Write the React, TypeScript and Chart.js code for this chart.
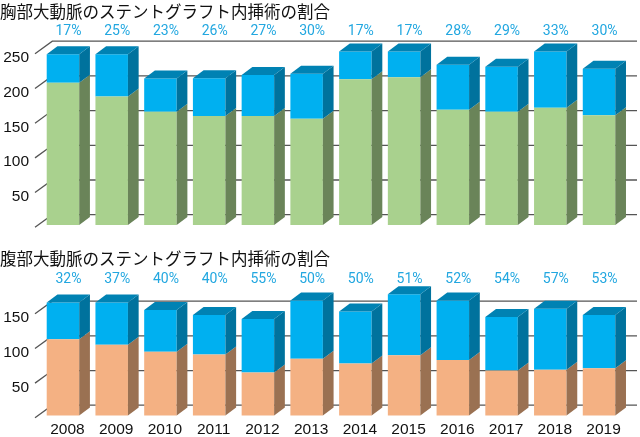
import React, { useEffect, useRef } from "react";
import { Chart, registerables } from "chart.js";

Chart.register(...registerables);

const years = ["2008","2009","2010","2011","2012","2013","2014","2015","2016","2017","2018","2019"];

const thoracicTitle = "胸部大動脈のステントグラフト内挿術の割合";
const thoracicLower = [205,185,163,157,157,153,210,213,166,163,169,158];
const thoracicUpper = [41,61,48,54.5,59,65,40,37,65,65,81,67];
const thoracicPercent = ["17%","25%","23%","26%","27%","30%","17%","17%","28%","29%","33%","30%"];

const abdominalTitle = "腹部大動脈のステントグラフト内挿術の割合";
const abdominalLower = [110,102,92,88,62,82,75,87,80,65,66,68];
const abdominalUpper = [53,61,60,57,77,84,75,88,86,77,88,77];
const abdominalPercent = ["32%","37%","40%","40%","55%","50%","50%","51%","52%","54%","57%","53%"];

const BLUE = "#00B0F0";
const BLUE_TOP = "#0082B3";
const BLUE_SIDE = "#00729D";
const GREEN = "#A9D18E";
const GREEN_SIDE = "#6A8459";
const ORANGE = "#F4B183";
const ORANGE_SIDE = "#9A7152";
const GRID = "#555555";
const LABEL_BLUE = "#22A7E0";
const DX = 10.7;
const DY = -8;

function poly(ctx: CanvasRenderingContext2D, pts: number[][], color: string) {
  ctx.beginPath();
  pts.forEach((p, i) => (i ? ctx.lineTo(p[0], p[1]) : ctx.moveTo(p[0], p[1])));
  ctx.closePath();
  ctx.fillStyle = color;
  ctx.fill();
}

function makePlugin(percent: string[], percentY: number, lowerSide: string) {
  return {
    id: "bars3d",
    beforeDatasetsDraw(chart: any) {
      const ctx = chart.ctx;
      const y = chart.scales.y;
      ctx.save();
      ctx.strokeStyle = GRID;
      ctx.lineWidth = 1.3;
      y.ticks.forEach((t: any) => {
        const p = y.getPixelForValue(t.value);
        ctx.beginPath();
        ctx.moveTo(35, p + 2.3);
        ctx.lineTo(52.3, p - 10.3);
        ctx.lineTo(637, p - 10.3);
        ctx.stroke();
      });
      ctx.restore();
    },
    afterDatasetsDraw(chart: any) {
      const ctx = chart.ctx;
      ctx.save();
      const lower = chart.getDatasetMeta(0).data;
      const upper = chart.getDatasetMeta(1).data;
      lower.forEach((b: any, i: number) => {
        const u = upper[i];
        const r = b.x + b.width / 2;
        const l = b.x - b.width / 2;
        poly(ctx, [[r, b.base], [r + DX, b.base + DY], [r + DX, b.y + DY], [r, b.y]], lowerSide);
        poly(ctx, [[r, b.y], [r + DX, b.y + DY], [r + DX, u.y + DY], [r, u.y]], BLUE_SIDE);
        poly(ctx, [[l, u.y], [l + DX, u.y + DY], [r + DX, u.y + DY], [r, u.y]], BLUE_TOP);
        ctx.fillStyle = LABEL_BLUE;
        ctx.font = '14px Roboto';
        ctx.textAlign = "center";
        ctx.textBaseline = "middle";
        ctx.fillText(percent[i], b.x + 5.5, percentY);
      });
      ctx.restore();
    },
  };
}

function makeChart(
  canvas: HTMLCanvasElement,
  cfg: {
    title: string; lower: number[]; upper: number[]; percent: string[]; percentY: number;
    lowerColor: string; lowerSide: string; max: number; topTick: number;
    titlePadding: { top: number; bottom: number }; showX: boolean; axisHeight: number;
  }
) {
  return new Chart(canvas, {
    type: "bar",
    data: {
      labels: years,
      datasets: [
        { data: cfg.lower, backgroundColor: cfg.lowerColor, stack: "s" },
        { data: cfg.upper, backgroundColor: BLUE, stack: "s" },
      ],
    },
    plugins: [makePlugin(cfg.percent, cfg.percentY, cfg.lowerSide)],
    options: {
      responsive: false,
      animation: false,
      clip: false,
      barPercentage: 0.667,
      categoryPercentage: 1,
      layout: { autoPadding: false, padding: { left: 0, right: 16.6, top: 0, bottom: 0 } },
      plugins: {
        legend: { display: false },
        tooltip: { enabled: false },
        title: {
          display: true,
          text: cfg.title,
          align: "start",
          color: "#111111",
          font: { family: '"Noto Sans CJK JP"', size: 16.5, weight: "normal", lineHeight: 1 },
          padding: cfg.titlePadding,
        },
      },
      scales: {
        x: {
          stacked: true,
          grid: { display: false, drawTicks: false },
          border: { display: false },
          ticks: {
            display: cfg.showX,
            color: "#111111",
            font: { family: '"Liberation Sans"', size: 15.5 },
            padding: 5.2,
            labelOffset: 4.5,
            autoSkip: false,
            maxRotation: 0,
          },
          afterFit(axis: any) {
            axis.height = cfg.axisHeight;
            axis.paddingLeft = 0;
            axis.paddingRight = 0;
          },
        },
        y: {
          stacked: true,
          min: 0,
          max: cfg.max,
          grid: { display: false, drawTicks: false },
          border: { display: false },
          ticks: {
            stepSize: 50,
            color: "#111111",
            font: { family: '"Liberation Sans"', size: 15.5 },
            padding: 9.6,
            labelOffset: 6.5,
            callback: (v: any) => (v === 0 ? "" : String(v)),
          },
          afterBuildTicks(axis: any) { axis.ticks = axis.ticks.filter((t: any) => t.value <= cfg.topTick); },
          afterFit(axis: any) {
            axis.width = 38.6;
            axis.paddingTop = 0;
            axis.paddingBottom = 0;
          },
        },
      },
    } as any,
  });
}

export default function App() {
  const topRef = useRef<HTMLCanvasElement>(null);
  const bottomRef = useRef<HTMLCanvasElement>(null);

  useEffect(() => {
    const a = makeChart(topRef.current!, {
      title: thoracicTitle, lower: thoracicLower, upper: thoracicUpper, percent: thoracicPercent,
      percentY: 31.7, lowerColor: GREEN, lowerSide: GREEN_SIDE, max: 295, topTick: 250,
      titlePadding: { top: 3.75, bottom: 0 }, showX: false, axisHeight: 15,
    });
    const b = makeChart(bottomRef.current!, {
      title: abdominalTitle, lower: abdominalLower, upper: abdominalUpper, percent: abdominalPercent,
      percentY: 39, lowerColor: ORANGE, lowerSide: ORANGE_SIDE, max: 212, topTick: 150,
      titlePadding: { top: 10, bottom: 2 }, showX: true, axisHeight: 21.5,
    });
    return () => { a.destroy(); b.destroy(); };
  }, []);

  return (
    <div style={{ position: "absolute", left: 0, top: 0, width: 640, height: 437 }}>
      <canvas ref={topRef} width={640} height={240} style={{ display: "block" }} />
      <canvas ref={bottomRef} width={640} height={197} style={{ display: "block" }} />
    </div>
  );
}
